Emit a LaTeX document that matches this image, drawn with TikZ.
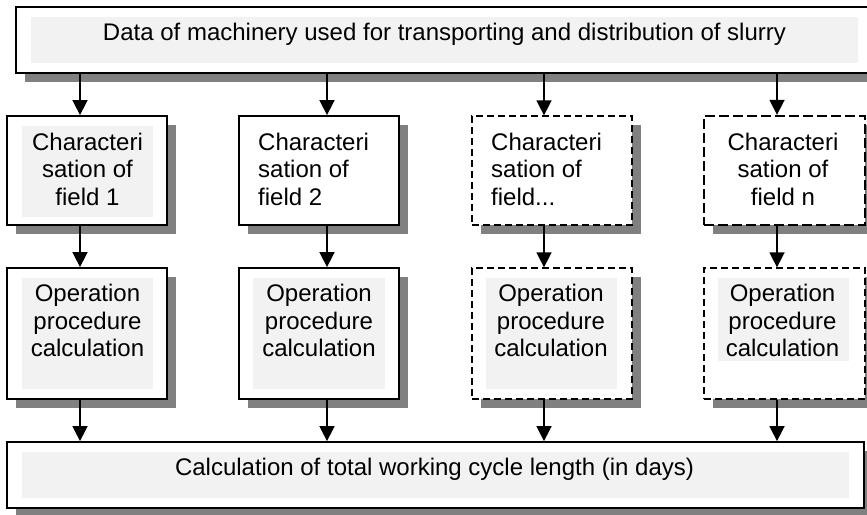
\documentclass[tikz,border=0pt]{standalone}
\usepackage{fontspec}
\setmainfont{Liberation Sans}
\usetikzlibrary{arrows.meta,shadows}
\definecolor{shadowgray}{HTML}{808080}
\definecolor{innergray}{HTML}{F2F2F2}
\tikzset{
  boxbase/.style={rectangle, draw=black, fill=white, inner sep=0pt,
    drop shadow={shadow xshift=9pt, shadow yshift=-9pt, fill=shadowgray, opacity=1}},
  solidbox/.style={boxbase, line width=1.8pt},
  thindash/.style={boxbase, line width=1.3pt, dash pattern=on 7pt off 4pt},
  thickdash/.style={boxbase, line width=2.3pt, dash pattern=on 10pt off 4pt},
  innerfill/.style={fill=innergray},
  lbl/.style={inner sep=0pt, font=\fontsize{24}{27.5}\selectfont},
  arr/.style={line width=1.6pt, -{Triangle[length=15pt,width=15pt]}},
}
\begin{document}
\begin{tikzpicture}[x=1pt,y=-1pt]
\useasboundingbox (0,0) rectangle (867,514);
\clip (0,0) rectangle (867,514);
% boxes
\node[solidbox, minimum width=864pt, minimum height=66pt] (top) at (448,40) {};
\node[solidbox, minimum width=160pt, minimum height=109pt] (r1a) at (87,170.5) {};
\node[solidbox, minimum width=160pt, minimum height=109pt] (r1b) at (319,170.5) {};
\node[thindash, minimum width=160pt, minimum height=109pt] (r1c) at (552,170.5) {};
\node[thickdash, minimum width=161pt, minimum height=109pt] (r1d) at (784.5,170.5) {};
\node[solidbox, minimum width=160pt, minimum height=131pt] (r2a) at (87,333.5) {};
\node[solidbox, minimum width=160pt, minimum height=131pt] (r2b) at (319,333.5) {};
\node[thindash, minimum width=160pt, minimum height=131pt] (r2c) at (552,333.5) {};
\node[thindash, minimum width=161pt, minimum height=131pt] (r2d) at (784.5,333.5) {};
\node[solidbox, minimum width=857pt, minimum height=66pt] (bot) at (435.5,475) {};
% inner light fills
\fill[innerfill] (31,17) rectangle (858,63);
\fill[innerfill] (22,126) rectangle (153,217);
\fill[innerfill] (22,278) rectangle (153,389);
\fill[innerfill] (253,278) rectangle (385,389);
\fill[innerfill] (486,278) rectangle (617,389);
\fill[innerfill] (718,278) rectangle (849,361);
\fill[innerfill] (22,452) rectangle (849,498);
% texts
\node[lbl, anchor=base] (ttop) at (444.5,40) {Data of machinery used for transporting and distribution of slurry};
\node[lbl, align=center, anchor=north] (t1a) at (87.5,132.6) {Characteri\\sation of\\field 1};
\node[lbl, align=left, anchor=north west] (t1b) at (258,132.6) {Characteri\\sation of\\field 2};
\node[lbl, align=left, anchor=north west] (t1c) at (491,132.6) {Characteri\\sation of\\field...};
\node[lbl, align=center, anchor=north] (t1d) at (783,132.6) {Characteri\\sation of\\field n};
\node[lbl, align=center, anchor=north] (t2a) at (87.5,284.4) {Operation\\procedure\\calculation};
\node[lbl, align=center, anchor=north] (t2b) at (319,284.4) {Operation\\procedure\\calculation};
\node[lbl, align=center, anchor=north] (t2c) at (551,284.4) {Operation\\procedure\\calculation};
\node[lbl, align=center, anchor=north] (t2d) at (782.5,284.4) {Operation\\procedure\\calculation};
\node[lbl, anchor=base] (tbot) at (434.5,475) {Calculation of total working cycle length (in days)};
% arrow columns
\coordinate (ca) at (80,0);
\coordinate (cb) at (327,0);
\coordinate (cc) at (544,0);
\coordinate (cd) at (777,0);
\draw[arr] (top.south -| ca) -- (r1a.north -| ca);
\draw[arr] (top.south -| cb) -- (r1b.north -| cb);
\draw[arr] (top.south -| cc) -- (r1c.north -| cc);
\draw[arr] (top.south -| cd) -- (r1d.north -| cd);
\draw[arr] (r1a.south -| ca) -- (r2a.north -| ca);
\draw[arr] (r1b.south -| cb) -- (r2b.north -| cb);
\draw[arr] (r1c.south -| cc) -- (r2c.north -| cc);
\draw[arr] (r1d.south -| cd) -- (r2d.north -| cd);
\draw[arr] (r2a.south -| ca) -- (bot.north -| ca);
\draw[arr] (r2b.south -| cb) -- (bot.north -| cb);
\draw[arr] (r2c.south -| cc) -- (bot.north -| cc);
\draw[arr] (r2d.south -| cd) -- (bot.north -| cd);
\end{tikzpicture}
\end{document}
